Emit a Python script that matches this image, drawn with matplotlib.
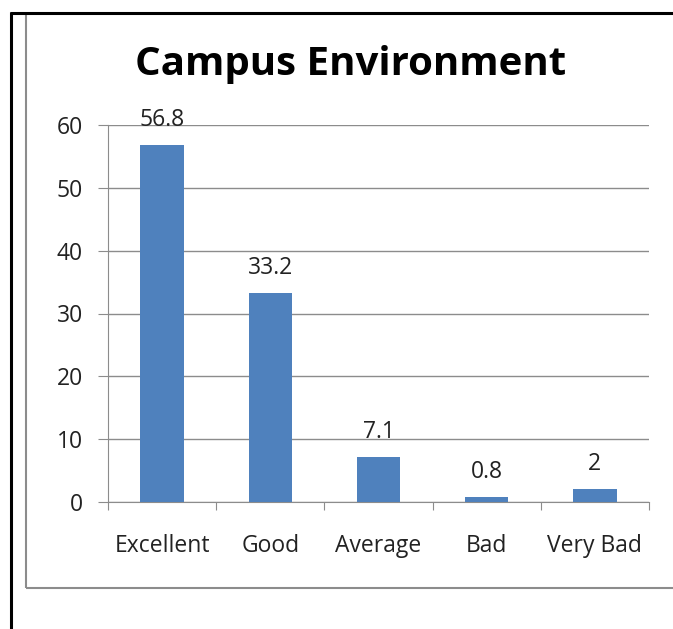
import matplotlib.pyplot as plt
from matplotlib.lines import Line2D

plt.rcParams['font.family'] = ['Open Sans', 'DejaVu Sans']

categories = ['Excellent', 'Good', 'Average', 'Bad', 'Very Bad']
values = [56.8, 33.2, 7.1, 0.8, 2]
yticks = [0, 10, 20, 30, 40, 50, 60]

W, H = 673, 629
fig = plt.figure(figsize=(W / 100, H / 100), dpi=100)
fig.patch.set_edgecolor('none')
fig.patch.set_linewidth(0)

# frames around the chart (gray chart border, black page border)
fig.add_artist(Line2D([26 / W, 26 / W], [1 - 13 / H, 1 - 588 / H], transform=fig.transFigure,
                      color='#8c8c8c', lw=1.5, solid_capstyle='butt'))
fig.add_artist(Line2D([26 / W, 1.05], [1 - 588 / H, 1 - 588 / H], transform=fig.transFigure,
                      color='#8c8c8c', lw=1.5, solid_capstyle='butt'))
fig.add_artist(Line2D([10.5 / W, 10.5 / W], [1 - 12 / H, -0.05], transform=fig.transFigure,
                      color='black', lw=2.2, solid_capstyle='butt'))
fig.add_artist(Line2D([9.5 / W, 1.05], [1 - 12.5 / H, 1 - 12.5 / H], transform=fig.transFigure,
                      color='black', lw=2.2, solid_capstyle='butt'))

ax = fig.add_axes([108 / W, 1 - 502 / H, (649 - 108) / W, (502 - 125) / H])
x = range(len(categories))
bars = ax.bar(x, values, width=0.4, color='#4F81BD', zorder=3)
for b, v in zip(bars, values):
    ax.annotate(f'{v:g}', (b.get_x() + b.get_width() / 2, v), xytext=(0, 9.5),
                textcoords='offset points', ha='center', va='bottom', fontsize=16.5, color='#222222')

ax.set_xlim(-0.5, len(categories) - 0.5)
ax.set_ylim(0, 60)
ax.set_yticks(yticks)
ax.yaxis.grid(True, color='#8c8c8c', lw=1)
ax.set_axisbelow(True)
ax.set_xticks([i - 0.5 for i in range(len(categories) + 1)], minor=False)
ax.set_xticklabels([])
ax.set_xticks(list(x), minor=True)
ax.set_xticklabels(categories, minor=True, fontsize=16.5, color='#222222')
ax.tick_params(axis='x', which='major', length=6, color='#8c8c8c', direction='out')
ax.tick_params(axis='x', which='minor', length=0, pad=23)
ax.tick_params(axis='y', length=7, color='#8c8c8c', labelsize=16.5, labelcolor='#222222', pad=11)
for s in ['top', 'right']:
    ax.spines[s].set_visible(False)
for s in ['left', 'bottom']:
    ax.spines[s].set_color('#8c8c8c')

fig.text(351 / W, 1 - 65 / H, 'Campus Environment', ha='center', va='center',
         fontsize=29, fontweight='bold')

fig.savefig('out.png', dpi=100)
